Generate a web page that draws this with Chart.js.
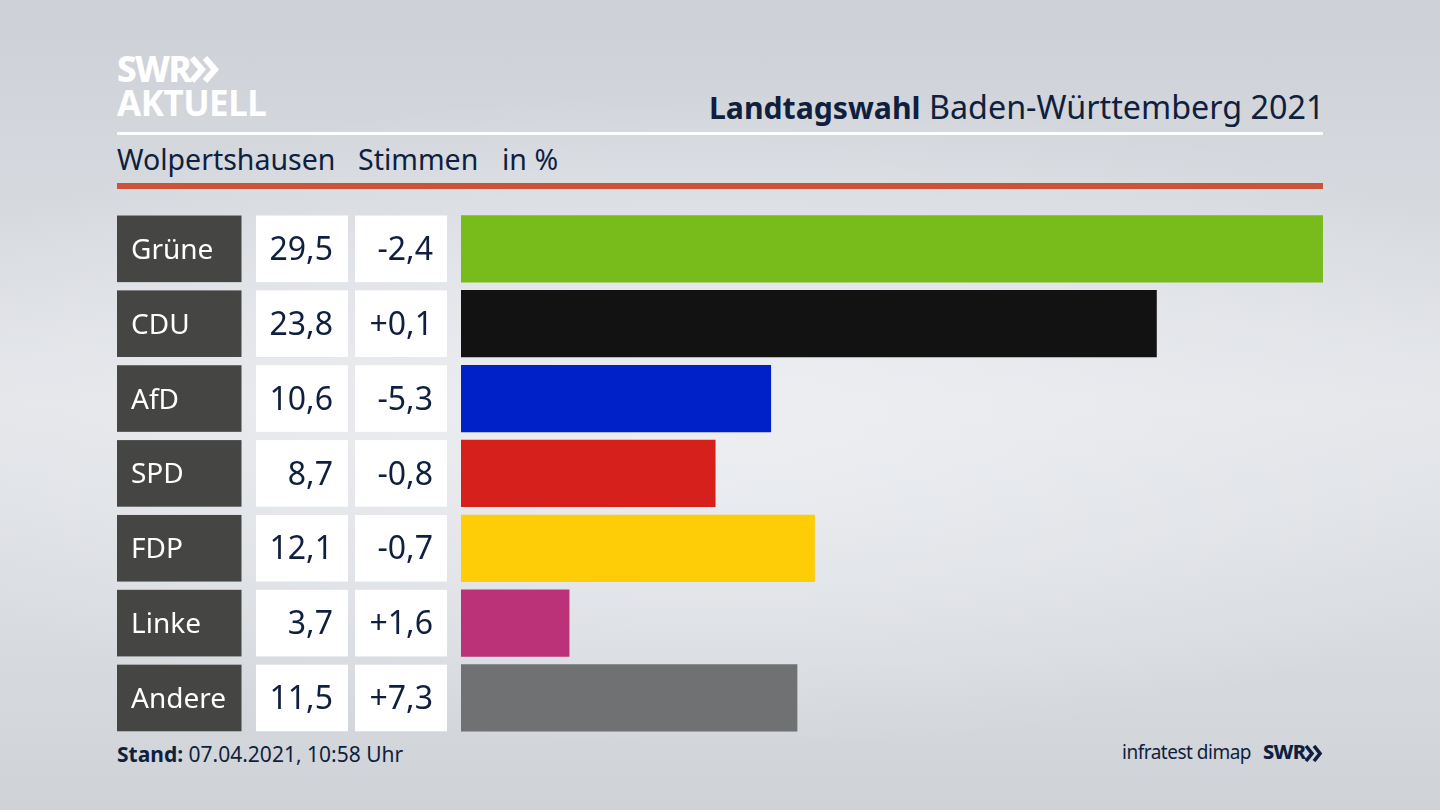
<!DOCTYPE html>
<html lang="de">
<head>
<meta charset="utf-8">
<title>Landtagswahl Baden-Württemberg 2021</title>
<script src="https://cdn.jsdelivr.net/npm/chart.js@4"></script>
<style>
  html, body { margin: 0; height: 100%; overflow: hidden; }
  body {
    width: 1440px; height: 810px; position: relative;
    font-family: "Noto Sans", sans-serif; color: #0f1f3d;
    background:
      radial-gradient(ellipse 900px 330px at 720px 420px, rgba(236,238,242,.95), rgba(236,238,242,0)),
      linear-gradient(180deg, #cdd0d6 0%, #d6d9de 25%, #e4e6ea 50%, #d8dbdf 78%, #cfd2d7 100%);
  }
  canvas { position: absolute; left: 0; top: 0; }
  .t { position: absolute; white-space: nowrap; line-height: 1; }
  .rule { position: absolute; left: 117px; width: 1206px; }
  svg { position: absolute; }
</style>
</head>
<body>
<div class="t" style="left:117px;top:51px;font-size:35px;font-weight:800;color:#fff;letter-spacing:-1.6px">SWR</div>
<svg style="left:189px;top:56px" width="32" height="27" fill="none" stroke="#fff" stroke-width="6"><path d="M3 2l10 11.5L3 25M16 2l10 11.5L16 25"/></svg>
<div class="t" style="left:117px;top:85px;font-size:35px;font-weight:700;color:#fff;letter-spacing:-.5px">AKTUELL</div>
<div class="t" style="right:115.5px;top:90px;font-size:32.3px"><b style="font-size:30.2px">Landtagswahl</b> Baden-Württemberg 2021</div>
<div class="rule" style="top:132px;height:3px;background:#fff"></div>
<div class="t" style="left:117px;top:145px;font-size:28.5px">Wolpertshausen</div>
<div class="t" style="left:358px;top:145px;font-size:28.5px">Stimmen</div>
<div class="t" style="left:502px;top:145px;font-size:28.5px">in %</div>
<div class="rule" style="top:183px;height:6px;background:#cb5339"></div>
<div class="t" style="left:117px;top:744px;font-size:21px"><b>Stand:</b> 07.04.2021, 10:58 Uhr</div>
<div class="t" style="right:189px;top:743px;font-size:19px;letter-spacing:-.5px">infratest dimap</div>
<div class="t" style="left:1263px;top:742px;font-size:20px;font-weight:800;letter-spacing:-.7px">SWR</div>
<svg style="left:1304px;top:745px" width="20" height="17" fill="none" stroke="#0f1f3d" stroke-width="3.6"><path d="M2 1l6 7.5L2 16M10 1l6 7.5L10 16"/></svg>
<canvas id="grafico" width="1440" height="810"></canvas>
<script>
const parteien = ["Grüne", "CDU", "AfD", "SPD", "FDP", "Linke", "Andere"];
const stimmen = [29.5, 23.8, 10.6, 8.7, 12.1, 3.7, 11.5];
const differenz = ["-2,4", "+0,1", "-5,3", "-0,8", "-0,7", "+1,6", "+7,3"];
const farben = ["#77bc1a", "#121212", "#0020c8", "#d6201c", "#ffcc08", "#bc3278", "#707173"];

const zeilenFont = '32px "Noto Sans", sans-serif';

// draws the label boxes behind the y axis and the two number columns
const tabelle = {
  id: "tabelle",
  beforeDraw(chart) {
    const { ctx, scales: { y } } = chart;
    const h = 66.6;
    ctx.save();
    parteien.forEach((p, i) => {
      const top = y.getPixelForValue(i) - h / 2;
      ctx.fillStyle = "#454543";
      ctx.fillRect(117, top, 124.5, h);
      ctx.fillStyle = "#fff";
      ctx.fillRect(256, top, 92, h);
      ctx.fillRect(355, top, 92, h);
    });
    ctx.restore();
  },
  afterDraw(chart) {
    const { ctx, scales: { y } } = chart;
    ctx.save();
    ctx.font = zeilenFont;
    ctx.fillStyle = "#0f1f3d";
    ctx.textAlign = "right";
    ctx.textBaseline = "middle";
    parteien.forEach((p, i) => {
      const mitte = y.getPixelForValue(i) + 2;
      ctx.fillText(stimmen[i].toFixed(1).replace(".", ","), 333, mitte);
      ctx.fillText(differenz[i], 433, mitte);
    });
    ctx.restore();
  }
};

new Chart(document.getElementById("grafico").getContext("2d"), {
  type: "bar",
  data: {
    labels: parteien,
    datasets: [{
      data: stimmen,
      backgroundColor: farben,
      barThickness: 66.6
    }]
  },
  options: {
    indexAxis: "y",
    responsive: false,
    animation: false,
    layout: { padding: { left: 131, right: 117, top: 211.4, bottom: 74.6 } },
    plugins: { legend: { display: false }, tooltip: { enabled: false } },
    scales: {
      x: { display: false, min: 0, max: 29.5 },
      y: {
        afterFit(scale) { scale.width = 330; },
        grid: { display: false, drawBorder: false },
        border: { display: false },
        ticks: {
          crossAlign: "far",
          padding: 0,
          labelOffset: 2,
          color: "#fff",
          font: { family: '"Noto Sans", sans-serif', size: 28 }
        }
      }
    }
  },
  plugins: [tabelle]
});
</script>
</body>
</html>
